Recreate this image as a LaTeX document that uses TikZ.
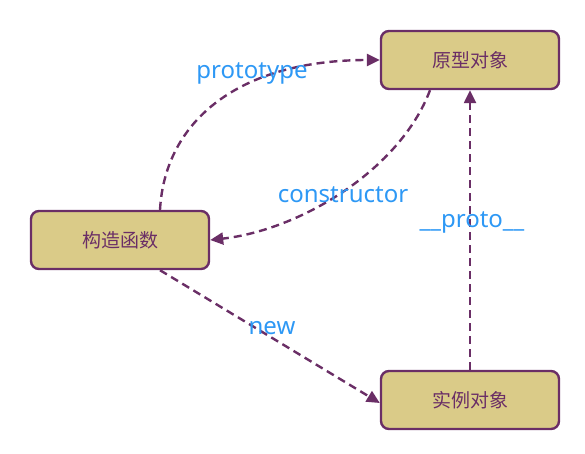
\documentclass[tikz,border=0pt]{standalone}
\usepackage{fontspec}
\setmainfont{Noto Sans}
\newfontfamily\cjk{Noto Sans CJK SC}
\usepackage{xcolor}
\usepackage{tikz}
\usetikzlibrary{arrows.meta,positioning}

\definecolor{boxfill}{RGB}{218,203,136}
\definecolor{boxline}{RGB}{106,46,102}
\definecolor{lblblue}{RGB}{45,152,245}

\tikzset{
  objbox/.style={draw=boxline, fill=boxfill, line width=2.4pt, rounded corners=8pt,
    minimum width=178pt, minimum height=58pt, text=boxline,
    font=\cjk\fontsize{19}{22}\selectfont},
  link/.style={draw=boxline, line width=2.4pt, dash pattern=on 8pt off 5pt,
    -{Triangle[length=13pt,width=12pt]}},
  lbl/.style={text=lblblue, font=\fontsize{24}{28}\selectfont}
}

\begin{document}
\begin{tikzpicture}[x=1pt,y=-1pt]
\useasboundingbox (0,0) rectangle (585,453);

% Objects
\node[objbox] (proto) at (470,60) {原型对象};
\node[objbox] (ctor) at (120,240) {构造函数};
\node[objbox] (inst) at (470,400) {实例对象};

% Links between them
\draw[link] ([xshift=40pt]ctor.north) .. controls (165,120) and (240,60) .. (proto.west);
\draw[link] ([xshift=-40pt]proto.south) .. controls (400,170) and (300,230) .. (ctor.east);
\draw[link] (inst.north) -- (proto.south);
\draw[link] ([xshift=40pt]ctor.south) -- ([yshift=-3pt]inst.west);

% Labels
\node[lbl] (lproto) at (252,73) {prototype};
\node[lbl] (lctor) at (343,195) {constructor};
\node[lbl] (lunder) at (472,222) {\_\_proto\_\_};
\node[lbl] (lnew) at (272,328) {new};

\end{tikzpicture}
\end{document}
